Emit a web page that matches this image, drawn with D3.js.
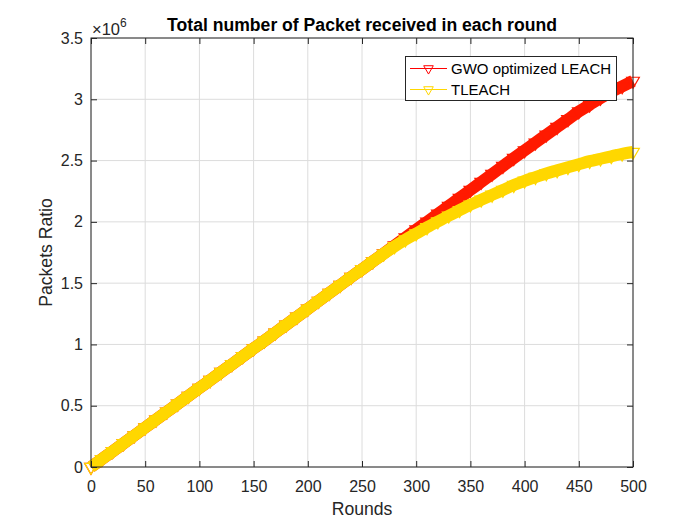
<!DOCTYPE html>
<html>
<head>
<meta charset="utf-8">
<script src="https://cdn.jsdelivr.net/npm/d3@7"></script>
<style>
  body { margin: 0; background: #fff; }
  svg { display: block; font-family: "Liberation Sans", Arial, Helvetica, sans-serif; }
</style>
</head>
<body>
<svg id="chart" width="700" height="525"></svg>
<script>
// ---- data (in units of 1e6 packets) ----
const rounds = [0,10,20,30,40,50,60,70,80,90,100,110,120,130,140,150,160,170,180,190,200,
  210,220,230,240,250,260,270,280,290,300,310,320,330,340,350,360,370,380,390,400,
  410,420,430,440,450,460,470,480,490,500];
const gwoLeach = [0,0.064,0.128,0.193,0.257,0.322,0.386,0.451,0.515,0.58,0.645,0.709,0.774,0.838,0.903,0.967,
  1.03,1.095,1.16,1.225,1.29,1.355,1.42,1.485,1.55,1.613,1.677,1.742,1.807,1.872,1.937,
  2.0,2.065,2.13,2.195,2.26,2.325,2.39,2.455,2.52,2.583,2.646,2.71,2.773,2.836,2.9,
  2.955,3.01,3.06,3.105,3.15];
const tLeach = [0,0.064,0.128,0.193,0.257,0.322,0.386,0.451,0.515,0.58,0.645,0.709,0.774,0.838,0.903,0.967,
  1.03,1.095,1.16,1.225,1.29,1.355,1.42,1.485,1.55,1.613,1.677,1.74,1.80,1.855,1.905,
  1.955,2.003,2.05,2.095,2.14,2.18,2.22,2.26,2.30,2.335,2.365,2.395,2.42,2.445,2.47,
  2.495,2.515,2.535,2.555,2.57];
const seriesNames = ["GWO optimized LEACH", "TLEACH"];
const seriesColors = ["#ff1a00", "#ffd700"];
const xTicks = [0,50,100,150,200,250,300,350,400,450,500];
const yTicks = [0,0.5,1,1.5,2,2.5,3,3.5];
const titleText = "Total number of Packet received in each round";
const xLabel = "Rounds";
const yLabel = "Packets Ratio";

// ---- layout ----
const svg = d3.select("#chart");
const m = {left: 91, right: 633, top: 38, bottom: 467};
const x = d3.scaleLinear().domain([0, 500]).range([m.left, m.right]);
const y = d3.scaleLinear().domain([0, 3.5]).range([m.bottom, m.top]);
const axisColor = "#262626";
const gridColor = "#dcdcdc";
const fontFam = "'Liberation Sans', Arial, Helvetica, sans-serif";

// grid
const g = svg.append("g");
g.selectAll(".gx").data(xTicks).enter().append("line")
  .attr("x1", d => x(d)).attr("x2", d => x(d))
  .attr("y1", m.top).attr("y2", m.bottom)
  .attr("stroke", gridColor).attr("stroke-width", 1);
g.selectAll(".gy").data(yTicks).enter().append("line")
  .attr("y1", d => y(d)).attr("y2", d => y(d))
  .attr("x1", m.left).attr("x2", m.right)
  .attr("stroke", gridColor).attr("stroke-width", 1);

// series
const data = [gwoLeach, tLeach];
const line = d3.line().x((d, i) => x(rounds[i])).y(d => y(d)).curve(d3.curveMonotoneX);
const tri = d3.symbol().type(d3.symbolTriangle).size(40);
const triBig = d3.symbol().type(d3.symbolTriangle).size(70);
const plot = svg.append("g");
data.forEach((vals, k) => {
  plot.append("path").datum(vals)
    .attr("d", line)
    .attr("fill", "none")
    .attr("stroke", seriesColors[k])
    .attr("stroke-width", 12)
    .attr("stroke-linejoin", "round")
    .attr("stroke-linecap", "butt");
  plot.selectAll(".m" + k).data(vals).enter().append("path")
    .attr("d", triBig)
    .attr("transform", (d, i) => `translate(${x(rounds[i])},${y(d)}) rotate(180)`)
    .attr("fill", "none")
    .attr("stroke", seriesColors[k])
    .attr("stroke-width", 1.2);
});

// axes
const xAxisB = d3.axisBottom(x).tickValues(xTicks).tickSize(-6).tickPadding(13.5).tickFormat(d3.format("d"));
const xAxisT = d3.axisTop(x).tickValues(xTicks).tickSize(-6).tickFormat("");
const yAxisL = d3.axisLeft(y).tickValues(yTicks).tickSize(-6).tickPadding(8).tickFormat(d => String(d));
const yAxisR = d3.axisRight(y).tickValues(yTicks).tickSize(-6).tickFormat("");

function style(sel) {
  sel.selectAll(".tick line").attr("stroke", axisColor);
  sel.selectAll(".tick text").attr("fill", axisColor)
     .style("font-size", "16px").style("font-family", fontFam);
}
svg.append("g").attr("transform", `translate(0,${m.bottom})`).call(xAxisB).call(style);
svg.append("g").attr("transform", `translate(0,${m.top})`).call(xAxisT).call(style);
svg.append("g").attr("transform", `translate(${m.left},0)`).call(yAxisL).call(style);
svg.append("g").attr("transform", `translate(${m.right},0)`).call(yAxisR).call(style);
svg.selectAll(".domain").remove();
svg.append("rect").attr("x", m.left).attr("y", m.top)
  .attr("width", m.right - m.left).attr("height", m.bottom - m.top)
  .attr("fill", "none").attr("stroke", axisColor).attr("stroke-width", 1);

// exponent
const ex = svg.append("text").attr("x", 92).attr("y", 35).attr("fill", axisColor)
  .style("font-size", "16.5px").style("font-family", fontFam);
ex.append("tspan").text("×10");
ex.append("tspan").attr("dy", -8).style("font-size", "12px").text("6");

// title & labels
svg.append("text").attr("x", (m.left + m.right) / 2).attr("y", 31)
  .attr("text-anchor", "middle").attr("font-weight", "bold")
  .style("font-size", "17.6px").attr("fill", "#000").text(titleText);
svg.append("text").attr("x", (m.left + m.right) / 2).attr("y", 515)
  .attr("text-anchor", "middle").style("font-size", "17.6px").attr("fill", axisColor).text(xLabel);
svg.append("text").attr("transform", `translate(51.5,${(m.top + m.bottom) / 2}) rotate(-90)`)
  .attr("text-anchor", "middle").style("font-size", "17.6px").attr("fill", axisColor).text(yLabel);

// legend
const lg = svg.append("g");
lg.append("rect").attr("x", 405.5).attr("y", 56.5).attr("width", 211).attr("height", 44)
  .attr("fill", "#fff").attr("stroke", axisColor).attr("stroke-width", 1);
seriesNames.forEach((name, k) => {
  const ly = 68.5 + k * 21;
  lg.append("line").attr("x1", 410).attr("x2", 447).attr("y1", ly).attr("y2", ly)
    .attr("stroke", k === 0 ? "#ff0000" : seriesColors[k]).attr("stroke-width", 1);
  lg.append("path").attr("d", tri).attr("transform", `translate(428.5,${ly}) rotate(180)`)
    .attr("fill", "none").attr("stroke", k === 0 ? "#ff0000" : seriesColors[k]).attr("stroke-width", 1);
  lg.append("text").attr("x", 451).attr("y", ly + 5.5).style("font-size", "15px")
    .attr("fill", "#000").text(name);
});
</script>
</body>
</html>
